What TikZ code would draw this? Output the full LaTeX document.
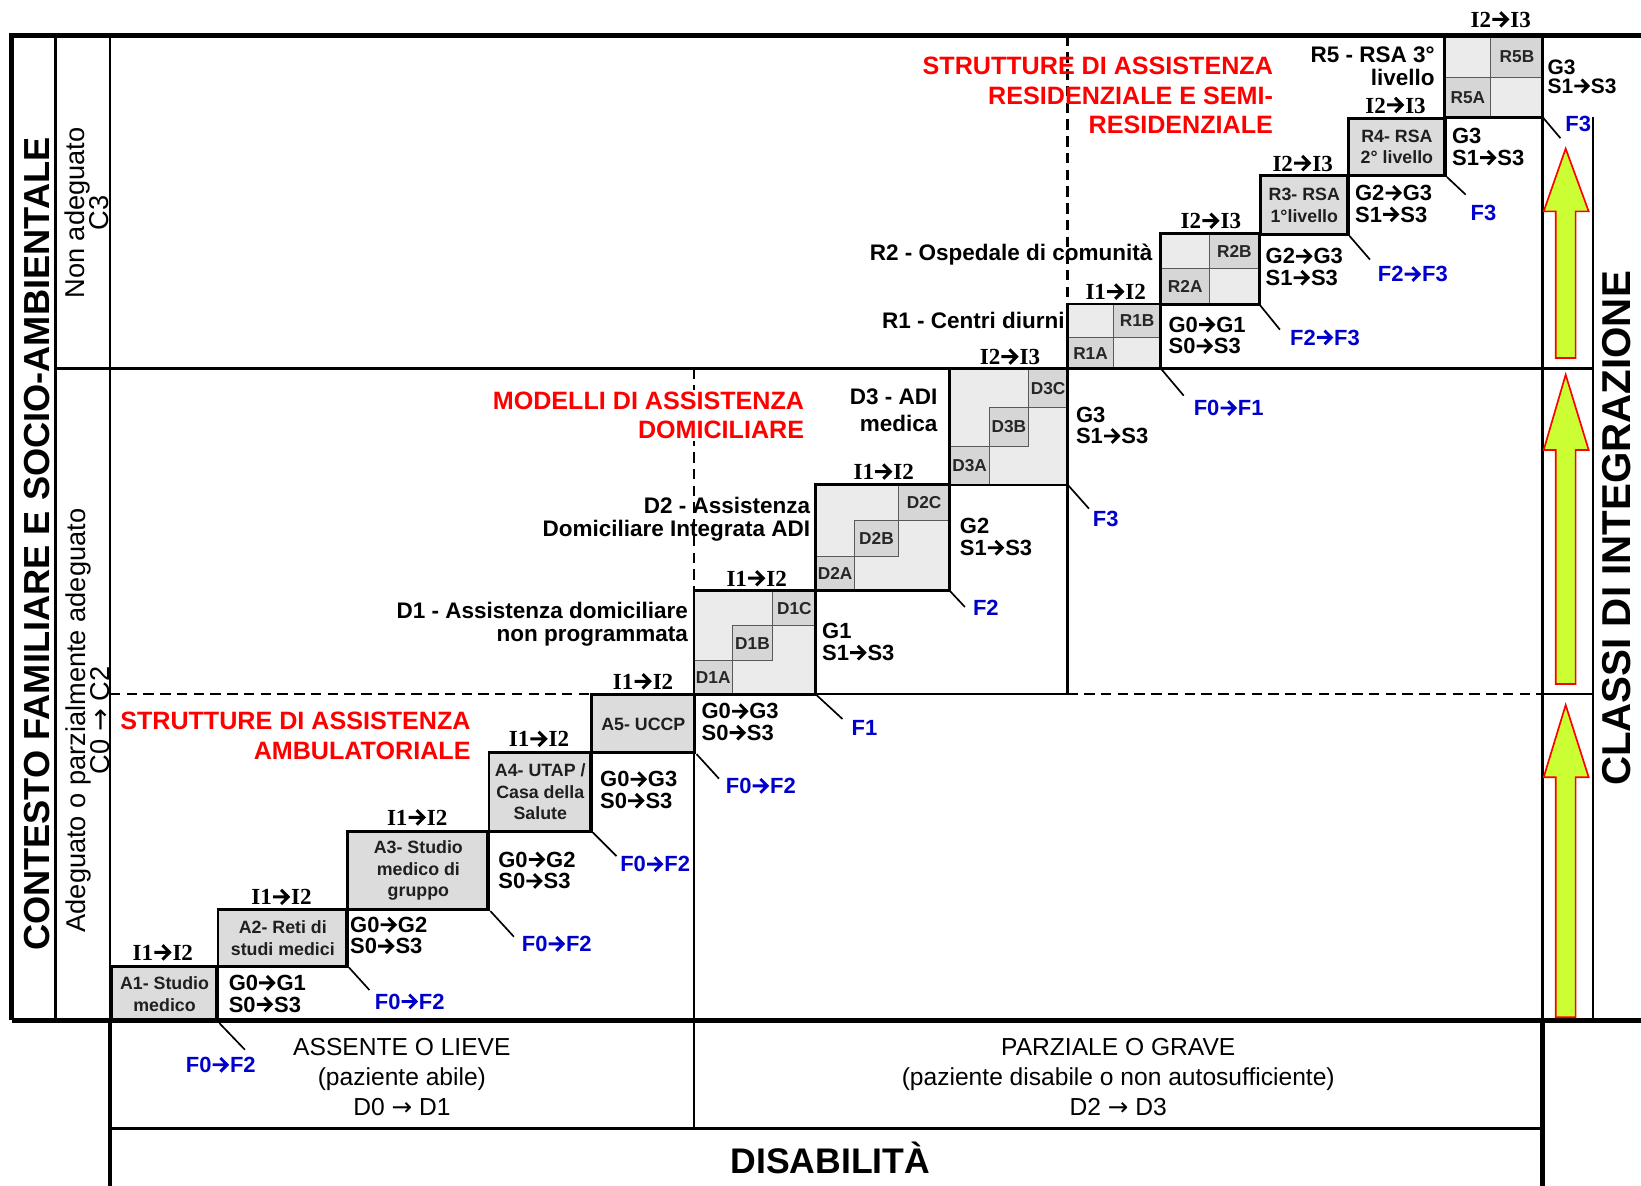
\documentclass[tikz,border=0pt]{standalone}
\usepackage{fontspec}
\setmainfont{Liberation Sans}
\newfontfamily\timesbold{Liberation Serif}
\newfontfamily\arrowfont{DejaVu Sans}
% heavy chevron arrow drawn at the current font size and colour
\newcommand{\harr}{\tikz[x=1em,y=1em,baseline=0pt]{%
  \useasboundingbox (0,0) rectangle (0.84,0.7);
  \draw[line width=0.13em, line join=miter, line cap=butt, solid]
    (0.05,0.35) -- (0.70,0.35) (0.40,0.66) -- (0.71,0.35) -- (0.40,0.04);}}
\newcommand{\tarr}{{\arrowfont →}}
\definecolor{boxgrey}{HTML}{DCDCDC}
\definecolor{panelgrey}{HTML}{EBEBEB}
\definecolor{cellgrey}{HTML}{D6D6D6}
\definecolor{fblue}{HTML}{0000CC}
\definecolor{arrowgreen}{HTML}{CCFF33}
\tikzset{
  heavy/.style={line width=4.5pt},
  ruleline/.style={line width=2.5pt},
  dashrule/.style={line width=2.5pt, dash pattern=on 10pt off 6pt},
  leader/.style={line width=1.6pt},
  abox/.style={draw, line width=2.5pt, fill=boxgrey, inner sep=0pt, anchor=north west,
     align=center, text=black!88, font=\bfseries\fontsize{17}{20.5}\selectfont},
  panel/.style={fill=panelgrey, inner sep=0pt, anchor=north west},
  subcell/.style={draw=black!65, line width=1pt, fill=cellgrey, inner sep=0pt, anchor=north west,
     text=black!85, font=\bfseries\fontsize{16.5}{18}\selectfont},
  ilabel/.style={inner sep=0pt, font=\timesbold\bfseries\fontsize{22}{24}\selectfont},
  gslabel/.style={inner sep=0pt, anchor=north west, align=left, font=\bfseries\fontsize{21}{20.5}\selectfont},
  flabel/.style={inner sep=0pt, text=fblue, font=\bfseries\fontsize{21}{22}\selectfont},
  redtitle/.style={inner sep=0pt, anchor=north east, align=right, text=red, font=\bfseries\fontsize{24}{28.5}\selectfont},
  blabel/.style={inner sep=0pt, anchor=north east, align=right, font=\bfseries\fontsize{21.5}{22}\selectfont},
  upblock/.style={fill=arrowgreen, draw=red, line width=1.6pt, line join=miter},
}
\begin{document}
\lineskiplimit=-100pt
\begin{tikzpicture}[x=1pt,y=-1pt]
\useasboundingbox (0,0) rectangle (1568,1133);

% ---------- ambulatory steps ----------
\node[abox, minimum width=102pt, minimum height=53pt] (a1) at (105,922) {A1- Studio\\medico};
\node[abox, minimum width=124pt, minimum height=54pt] (a2) at (207,868) {A2- Reti di\\studi medici};
\node[abox, minimum width=135pt, minimum height=75pt] (a3) at (331,793) {A3- Studio\\medico di\\gruppo};
\node[abox, minimum width=98pt, minimum height=75pt] (a4) at (466,718) {A4- UTAP /\\Casa della\\Salute};
\node[abox, minimum width=99pt, minimum height=55pt] (a5) at (564,663) {A5- UCCP};

% ---------- home care panels ----------
\node[panel, minimum width=116pt, minimum height=99pt] (d1) at (663,564) {};
\node[panel, minimum width=128pt, minimum height=101pt] (d2) at (779,463) {};
\node[panel, minimum width=113pt, minimum height=111pt] (d3) at (907,352) {};
\node[subcell, minimum width=36pt, minimum height=32pt] (d1a) at (663,631) {D1A};
\node[subcell, minimum width=39pt, minimum height=34pt] (d1b) at (699,597) {D1B};
\node[subcell, minimum width=41pt, minimum height=33pt] (d1c) at (738,564) {D1C};
\node[subcell, minimum width=37pt, minimum height=33pt] (d2a) at (779,531) {D2A};
\node[subcell, minimum width=42pt, minimum height=34pt] (d2b) at (816,497) {D2B};
\node[subcell, minimum width=49pt, minimum height=34pt] (d2c) at (858,463) {D2C};
\node[subcell, minimum width=38pt, minimum height=37pt] (d3a) at (907,426) {D3A};
\node[subcell, minimum width=37pt, minimum height=37pt] (d3b) at (945,389) {D3B};
\node[subcell, minimum width=38pt, minimum height=37pt] (d3c) at (982,352) {D3C};

% ---------- residential panels ----------
\node[panel, minimum width=89pt, minimum height=61.5pt] (r1) at (1020,290.5) {};
\node[panel, minimum width=94pt, minimum height=67.5pt] (r2) at (1109,223) {};
\node[abox, minimum width=84pt, minimum height=56.4pt] (r3) at (1203,166.6) {R3- RSA\\1°livello};
\node[abox, minimum width=93pt, minimum height=54.6pt] (r4) at (1287,112) {R4- RSA\\2° livello};
\node[panel, minimum width=94pt, minimum height=78pt] (r5) at (1380,34) {};
\node[subcell, minimum width=43pt, minimum height=30.3pt] (r1a) at (1020,321.7) {R1A};
\node[subcell, minimum width=46pt, minimum height=31.2pt] (r1b) at (1063,290.5) {R1B};
\node[subcell, minimum width=46pt, minimum height=34.1pt] (r2a) at (1109,256.4) {R2A};
\node[subcell, minimum width=48pt, minimum height=33.4pt] (r2b) at (1155,223) {R2B};
\node[subcell, minimum width=44pt, minimum height=38.7pt] (r5a) at (1380,73.3) {R5A};
\node[subcell, minimum width=50pt, minimum height=39.3pt] (r5b) at (1424,34) {R5B};

\foreach \b in {d1,d2,d3,r1,r2,r5}
  \draw[ruleline] (\b.north west) rectangle (\b.south east);

% ---------- frame ----------
\draw[heavy] (11,975) -- (11,34) -- (1568,34);
\draw[heavy] (11,975) -- (1568,975);
\draw[heavy] (105,975) -- (105,1133);
\draw[heavy] (1474,975) -- (1474,1133);
\draw[ruleline] (53,34) -- (53,975);
\draw[ruleline] (105,34) -- (105,975);
\draw[ruleline] (1474,34) -- (1474,975);
\draw[ruleline] (1522,112) -- (1522,975);
\draw[ruleline] (53,352) -- (1522,352);
\draw[ruleline] (105,1078) -- (1474,1078);
\draw[ruleline] (663,564) -- (663,1078);
\draw[ruleline] (1020,290.5) -- (1020,663);
\draw[ruleline] (564,663) -- (1020,663);
\draw[ruleline] (1474,663) -- (1522,663);
\draw[dashrule] (105,663) -- (564,663);
\draw[dashrule] (1020,663) -- (1474,663);
\draw[dashrule] (663,352) -- (663,564);
\draw[dashrule] (1020,34) -- (1020,290.5);

% ---------- step risers ----------
\draw[ruleline] (a2.south west) -- (a2.south west |- a1.south);
\draw[ruleline] (a3.south west) -- (a3.south west |- a2.south);
\draw[ruleline] (a4.south west) -- (a4.south west |- a3.south);
\draw[ruleline] (a5.south west) -- (a5.south west |- a4.south);
\draw[ruleline] (d2.south west) -- (d2.south west |- d1.south);
\draw[ruleline] (d3.south west) -- (d3.south west |- d2.south);
\draw[ruleline] (r2.south west) -- (r2.south west |- r1.south);
\draw[ruleline] (r3.south west) -- (r3.south west |- r2.south);
\draw[ruleline] (r4.south west) -- (r4.south west |- r3.south);
\draw[ruleline] (r5.south west) -- (r5.south west |- r4.south);

% ---------- leader lines to F classes ----------
\coordinate (ea1) at (234,1003);
\coordinate (ea2) at (353,946);
\coordinate (ea3) at (491,895);
\coordinate (ea4) at (589,818);
\coordinate (ea5) at (687,744);
\coordinate (ed1) at (805,687);
\coordinate (ed2) at (922,580);
\coordinate (ed3) at (1040.5,486);
\coordinate (er1) at (1131,378);
\coordinate (er2) at (1223,315);
\coordinate (er3) at (1309,248);
\coordinate (er4) at (1400.5,186);
\coordinate (er5) at (1491,132);
\draw[leader] (a1.south east) -- (ea1);
\draw[leader] (a2.south east) -- (ea2);
\draw[leader] (a3.south east) -- (ea3);
\draw[leader] (a4.south east) -- (ea4);
\draw[leader] (a5.south east) -- (ea5);
\draw[leader] (d1.south east) -- (ed1);
\draw[leader] (d2.south east) -- (ed2);
\draw[leader] (d3.south east) -- (ed3);
\draw[leader] (r1.south east) -- (er1);
\draw[leader] (r2.south east) -- (er2);
\draw[leader] (r3.south east) -- (er3);
\draw[leader] (r4.south east) -- (er4);
\draw[leader] (r5.south east) -- (er5);

\node[flabel] (fa1) at (211,1017.5) {F0\harr F2};
\node[flabel] (fa2) at (391.5,957) {F0\harr F2};
\node[flabel] (fa3) at (532,902) {F0\harr F2};
\node[flabel] (fa4) at (626,825.8) {F0\harr F2};
\node[flabel] (fa5) at (727,751) {F0\harr F2};
\node[flabel] (fd1) at (826,696) {F1};
\node[flabel] (fd2) at (942,581) {F2};
\node[flabel] (fd3) at (1056.5,496) {F3};
\node[flabel] (fr1) at (1174,390) {F0\harr F1};
\node[flabel] (fr2) at (1266,322.5) {F2\harr F3};
\node[flabel] (fr3) at (1350,262) {F2\harr F3};
\node[flabel] (fr4) at (1417.5,203.4) {F3};
\node[flabel] (fr5) at (1508,118) {F3};

% ---------- integration classes ----------
\node[ilabel] (ia1) at (155.6,910) {I1\harr I2};
\node[ilabel] (ia2) at (269,857) {I1\harr I2};
\node[ilabel] (ia3) at (398.6,781) {I1\harr I2};
\node[ilabel] (ia4) at (515,706) {I1\harr I2};
\node[ilabel] (ia5) at (614.5,651) {I1\harr I2};
\node[ilabel] (id1) at (723,552.5) {I1\harr I2};
\node[ilabel] (id2) at (844.4,450.6) {I1\harr I2};
\node[ilabel] (id3) at (965,340.8) {I2\harr I3};
\node[ilabel] (ir1) at (1066,278.7) {I1\harr I2};
\node[ilabel] (ir2) at (1157,211) {I2\harr I3};
\node[ilabel] (ir3) at (1244.7,156) {I2\harr I3};
\node[ilabel] (ir4) at (1333.5,100.4) {I2\harr I3};
\node[ilabel] (ir5) at (1434,18.6) {I2\harr I3};

% ---------- G / S classes ----------
\node[gslabel] (ga1) at (218.4,931.6) {G0\harr G1\\S0\harr S3};
\node[gslabel] (ga2) at (334.4,876) {G0\harr G2\\S0\harr S3};
\node[gslabel] (ga3) at (476,813.7) {G0\harr G2\\S0\harr S3};
\node[gslabel] (ga4) at (573.3,737) {G0\harr G3\\S0\harr S3};
\node[gslabel] (ga5) at (670.2,672) {G0\harr G3\\S0\harr S3};
\node[gslabel] (gd1) at (785.4,595.6) {G1\\S1\harr S3};
\node[gslabel] (gd2) at (917,495.3) {G2\\S1\harr S3};
\node[gslabel] (gd3) at (1028,388.6) {G3\\S1\harr S3};
\node[gslabel] (gr1) at (1116.4,302.6) {G0\harr G1\\S0\harr S3};
\node[gslabel] (gr2) at (1209.2,237.3) {G2\harr G3\\S1\harr S3};
\node[gslabel] (gr3) at (1294.6,176.8) {G2\harr G3\\S1\harr S3};
\node[gslabel] (gr4) at (1387.3,122.6) {G3\\S1\harr S3};
\node[gslabel, font=\bfseries\fontsize{20}{18}\selectfont] (gr5) at (1478.6,57) {G3\\S1\harr S3};

% ---------- setting names ----------
\node[blabel] (ld1) at (657.6,575) {D1 - Assistenza domiciliare\\non programmata};
\node[blabel] (ld2) at (774.3,474.5) {D2 - Assistenza\\Domiciliare Integrata ADI};
\node[blabel, font=\bfseries\fontsize{21.5}{26}\selectfont] (ld3) at (895.8,371) {D3 - ADI\\medica};
\node[blabel] (lr1) at (1017.4,297.8) {R1 - Centri diurni};
\node[blabel] (lr2) at (1101.3,232.5) {R2 - Ospedale di comunità};
\node[blabel] (lr5) at (1371,44.6) {R5 - RSA 3°\\livello};

% ---------- section titles ----------
\node[redtitle] (tamb) at (449.8,680) {STRUTTURE DI ASSISTENZA\\AMBULATORIALE};
\node[redtitle, fill=white, inner sep=2pt] (tdom) at (770.5,372) {MODELLI DI ASSISTENZA\\DOMICILIARE};
\node[redtitle] (tres) at (1216.5,54) {STRUTTURE DI ASSISTENZA\\RESIDENZIALE E SEMI-\\RESIDENZIALE};

% ---------- axes ----------
\node[rotate=90, inner sep=0pt, font=\bfseries\fontsize{34.6}{36}\selectfont] (ctx) at (35,520)
  {CONTESTO FAMILIARE E SOCIO-AMBIENTALE};
\node[rotate=90, anchor=north, align=center, inner sep=0pt, font=\fontsize{26}{22.5}\selectfont] (cthree) at (62,203.5)
  {Non adeguato\\C3};
\node[rotate=90, anchor=north, align=center, inner sep=0pt, font=\fontsize{26}{22.5}\selectfont] (clow) at (63,688.5)
  {Adeguato o parzialmente adeguato\\C0 \tarr{} C2};
\node[rotate=90, inner sep=0pt, font=\bfseries\fontsize{38.5}{40}\selectfont] (cls) at (1545,505)
  {CLASSI DI INTEGRAZIONE};
\node[anchor=north, align=center, inner sep=0pt, font=\fontsize{23.5}{28.5}\selectfont] (dlow) at (384,992)
  {ASSENTE O LIEVE\\(paziente abile)\\D0 \tarr{} D1};
\node[anchor=north, align=center, inner sep=0pt, font=\fontsize{23.5}{28.5}\selectfont] (dhigh) at (1068.5,992)
  {PARZIALE O GRAVE\\(paziente disabile o non autosufficiente)\\D2 \tarr{} D3};
\node[anchor=base, inner sep=0pt, font=\bfseries\fontsize{34}{36}\selectfont] (dis) at (793.5,1121) {DISABILITÀ};

% ---------- upward block arrows ----------
\draw[upblock] (1496,142) -- (1518,202) -- (1505.5,202) -- (1505.5,342) -- (1486.5,342) -- (1486.5,202) -- (1475,202) -- cycle;
\draw[upblock] (1496,358) -- (1518,430) -- (1505.5,430) -- (1505.5,653.5) -- (1486.5,653.5) -- (1486.5,430) -- (1475,430) -- cycle;
\draw[upblock] (1496,673.6) -- (1518,742.7) -- (1505.5,742.7) -- (1505.5,972) -- (1486.5,972) -- (1486.5,742.7) -- (1475,742.7) -- cycle;
\end{tikzpicture}
\end{document}
